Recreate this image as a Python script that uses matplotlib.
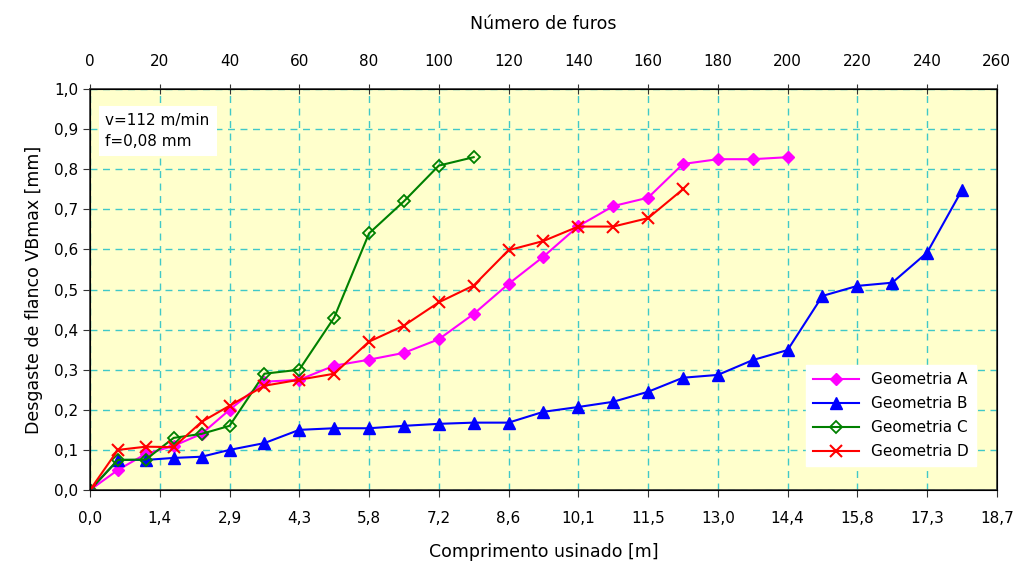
import numpy as np
import matplotlib.pyplot as plt

plt.rcParams['font.family'] = ['DejaVu Sans']

# number of holes (top axis)
furos = [0, 8, 16, 24, 32, 40, 50, 60, 70, 80, 90, 100, 110, 120, 130, 140,
         150, 160, 170, 180, 190, 200, 210, 220, 230, 240, 250]

vb_a = [0, 0.05, 0.09, 0.11, 0.14, 0.20, 0.27, 0.275, 0.31, 0.325, 0.342, 0.376,
        0.439, 0.514, 0.582, 0.658, 0.708, 0.729, 0.813, 0.825, 0.825, 0.83]
vb_b = [0, 0.075, 0.075, 0.08, 0.083, 0.10, 0.117, 0.15, 0.154, 0.154, 0.16,
        0.165, 0.168, 0.168, 0.195, 0.207, 0.22, 0.245, 0.28, 0.287, 0.324,
        0.349, 0.484, 0.509, 0.517, 0.592, 0.748]
vb_c = [0, 0.075, 0.076, 0.13, 0.14, 0.16, 0.29, 0.30, 0.43, 0.64, 0.72, 0.809, 0.83]
vb_d = [0, 0.10, 0.108, 0.107, 0.17, 0.21, 0.26, 0.275, 0.29, 0.37, 0.41, 0.468,
        0.51, 0.598, 0.621, 0.657, 0.657, 0.678, 0.75]

top_ticks = list(range(0, 261, 20))
comp_labels = ['0,0', '1,4', '2,9', '4,3', '5,8', '7,2', '8,6', '10,1', '11,5',
               '13,0', '14,4', '15,8', '17,3', '18,7']
y_ticks = np.arange(0, 1.01, 0.1)

fig = plt.figure(figsize=(10.17, 5.67), dpi=100)
ax = fig.add_axes([0.0885, 0.1358, 0.8917, 0.7072])
ax.set_facecolor('#FFFFCC')

ax.plot(furos[:len(vb_a)], vb_a, color='#FF00FF', marker='D', markersize=6, lw=1.5, label='Geometria A')
ax.plot(furos[:len(vb_b)], vb_b, color='#0000FF', marker='^', markersize=8, lw=1.5, label='Geometria B')
ax.plot(furos[:len(vb_c)], vb_c, color='#008000', marker='D', markersize=6, mfc='none', mew=1.3, lw=1.5, label='Geometria C')
ax.plot(furos[:len(vb_d)], vb_d, color='#FF0000', marker='x', markersize=9, mew=1.5, lw=1.5, label='Geometria D')

ax.set_xlim(0, 260)
ax.set_ylim(0, 1.0)
ax.set_xticks(top_ticks)
ax.set_xticklabels(comp_labels, fontsize=11)
ax.set_yticks(y_ticks)
ax.set_yticklabels([f'{v:.1f}'.replace('.', ',') for v in y_ticks], fontsize=11)
ax.grid(True, color='#40C8C8', linestyle=(0, (5, 4)), lw=1.0)
ax.set_axisbelow(True)
ax.set_xlabel('Comprimento usinado [m]', fontsize=12.5, labelpad=12)
ax.set_ylabel('Desgaste de flanco VBmax [mm]', fontsize=12.5, labelpad=8)
ax.tick_params(direction='out', length=5, color='#333333')
ax.tick_params(axis='x', pad=10)
for s in ax.spines.values():
    s.set_color('#333333')
    s.set_linewidth(1.2)

ax2 = ax.twiny()
ax2.set_xlim(0, 260)
ax2.set_xticks(top_ticks)
ax2.set_xticklabels([str(t) for t in top_ticks], fontsize=11)
ax2.tick_params(direction='inout', length=7, color='#333333', pad=11)
ax2.set_xlabel('Número de furos', fontsize=12.5, labelpad=18)

ax.text(0.017, 0.94, 'v=112 m/min\nf=0,08 mm', transform=ax.transAxes, fontsize=11,
        va='top', ha='left', linespacing=1.5,
        bbox=dict(facecolor='white', edgecolor='none', pad=5))

leg = ax.legend(loc='lower right', bbox_to_anchor=(0.985, 0.04), fontsize=11,
                frameon=True, fancybox=False, framealpha=1, edgecolor='white',
                handlelength=3.0, borderpad=0.45, labelspacing=0.6)

fig.savefig('out.png', dpi=100)
